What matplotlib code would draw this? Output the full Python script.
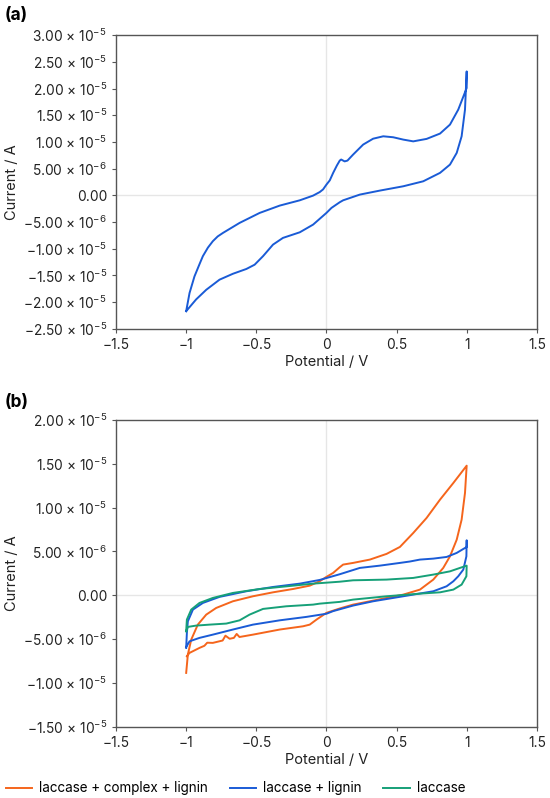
import matplotlib
matplotlib.use("Agg")
import matplotlib.pyplot as plt
import numpy as np
from matplotlib.ticker import FuncFormatter, MultipleLocator

plt.rcParams['font.family'] = ['Inter', 'DejaVu Sans']
plt.rcParams['mathtext.fontset'] = 'custom'
plt.rcParams['mathtext.rm'] = 'Inter'
plt.rcParams['mathtext.it'] = 'Inter'
plt.rcParams['mathtext.default'] = 'regular'

# ---- Panel (a) data: potential (V), current (1e-6 A) ----
a_v = [-1.0, -0.976, -0.941, -0.905, -0.881, -0.845, -0.81, -0.775, -0.738, -0.619, -0.476,
       -0.333, -0.19, -0.095, -0.048, -0.024, 0.0, 0.024, 0.048, 0.075, 0.095, 0.105, 0.13,
       0.15, 0.19, 0.262, 0.333, 0.405, 0.476, 0.548, 0.619, 0.714, 0.81, 0.881, 0.94, 1.0,
       1.0, 0.988, 0.964, 0.929, 0.881, 0.81, 0.69, 0.548, 0.381, 0.238, 0.119, 0.095,
       0.036, 0.0, -0.095, -0.19, -0.31, -0.381, -0.452, -0.512, -0.571, -0.667,
       -0.762, -0.857, -0.929, -1.0]
a_i = [-21.7, -18.3, -15.2, -12.9, -11.4, -9.8, -8.6, -7.7, -7.05, -5.17, -3.3,
       -1.93, -0.94, -0.06, 0.6, 1.1, 2.0, 2.8, 4.2, 5.6, 6.5, 6.7, 6.35,
       6.5, 7.62, 9.5, 10.6, 11.05, 10.87, 10.43, 10.1, 10.56, 11.56, 13.24, 16.05, 20.1,
       23.2, 16.05, 11.05, 7.94, 5.75, 4.2, 2.62, 1.69, 0.88, 0.13, -0.94, -1.3,
       -2.36, -3.3, -5.49, -6.93, -7.98, -9.24, -11.4, -13.0, -13.8, -14.7,
       -15.8, -17.7, -19.5, -21.7]

# ---- Panel (b) data ----
series_names = ["laccase + complex + lignin", "laccase + lignin", "laccase"]

orange_v = [-1.0, -0.988, -0.964, -0.917, -0.857, -0.786, -0.667, -0.524, -0.381, -0.238,
            -0.119, -0.048, 0.0, 0.048, 0.095, 0.119, 0.19, 0.31, 0.429, 0.524, 0.619,
            0.714, 0.81, 0.905, 1.0,
            0.988, 0.964, 0.929, 0.881, 0.833, 0.762, 0.667, 0.548, 0.429, 0.31, 0.19,
            0.095, 0.0, -0.071, -0.119, -0.167, -0.333, -0.524, -0.62, -0.64, -0.66,
            -0.69, -0.72, -0.74, -0.81, -0.85, -0.87, -0.905, -0.976, -0.995]
orange_i = [-8.84, -6.75, -5.05, -3.34, -2.2, -1.44, -0.68, -0.11, 0.34, 0.72,
            1.1, 1.6, 2.1, 2.55, 3.2, 3.5, 3.69, 4.07, 4.72, 5.51, 7.1,
            8.81, 10.9, 12.8, 14.77,
            11.66, 8.62, 6.34, 4.44, 3.12, 1.79, 0.65, 0.08, -0.3, -0.68, -1.06,
            -1.5, -2.0, -2.77, -3.34, -3.53, -3.9, -4.48, -4.75, -4.4, -4.85,
            -4.95, -4.6, -5.15, -5.42, -5.4, -5.75, -5.99, -6.56, -6.94]

blue_v = [-1.0, -0.995, -0.988, -0.952, -0.881, -0.762, -0.571, -0.381, -0.19, -0.048,
          0.095, 0.238, 0.381, 0.524, 0.595, 0.667, 0.762, 0.857, 0.929, 0.976, 1.0, 1.0,
          0.998, 0.976, 0.94, 0.905, 0.857, 0.762, 0.619, 0.476, 0.333, 0.19, 0.048,
          0.0, -0.143, -0.333, -0.524, -0.667, -0.81, -0.905, -0.976, -1.0]
blue_i = [-5.99, -4.28, -2.96, -1.63, -0.87, -0.18, 0.46, 0.95, 1.33, 1.75,
          2.4, 3.12, 3.38, 3.69, 3.85, 4.07, 4.18, 4.37, 4.83, 5.28, 5.5, 6.27,
          4.44, 2.93, 2.17, 1.6, 1.03, 0.46, 0.08, -0.3, -0.68, -1.17, -1.8,
          -2.1, -2.46, -2.85, -3.34, -3.9, -4.48, -4.85, -5.24, -5.9]

green_v = [-1.0, -0.995, -0.964, -0.905, -0.81, -0.667, -0.476, -0.286, -0.095, 0.095,
           0.19, 0.429, 0.619, 0.762, 0.881, 0.952, 1.0,
           0.998, 0.964, 0.905, 0.81, 0.667, 0.429, 0.19, 0.095, -0.048, -0.095,
           -0.286, -0.452, -0.548, -0.619, -0.714, -0.833, -0.929, -0.988, -1.0]
green_i = [-4.1, -2.77, -1.63, -0.87, -0.3, 0.27, 0.72, 1.02, 1.33, 1.55,
           1.71, 1.79, 1.98, 2.36, 2.73, 3.12, 3.38,
           2.17, 1.22, 0.65, 0.34, 0.19, -0.11, -0.49, -0.75, -0.95, -1.06,
           -1.25, -1.55, -2.2, -2.85, -3.22, -3.34, -3.45, -3.6, -4.1]

colors = ["#F5651C", "#1A5BD6", "#16A078"]

x_ticks = [-1.5, -1, -0.5, 0, 0.5, 1, 1.5]
x_labels = ["\u22121.5", "\u22121", "\u22120.5", "0", "0.5", "1", "1.5"]


def sci_fmt(val, pos):
    if abs(val) < 1e-12:
        return "0.00"
    exp = int(np.floor(np.log10(abs(val)) + 1e-9))
    mant = val / 10 ** exp
    m = f"{mant:.2f}".replace("-", "\u2212")
    return m + " \u00d7 10$^{" + f"\u2212{abs(exp)}" + "}$"


fig = plt.figure(figsize=(5.5, 7.98), dpi=100)
axa = fig.add_axes([0.211, 0.588, 0.765, 0.368])
axb = fig.add_axes([0.211, 0.089, 0.765, 0.385])

spine_col = "#555555"
for ax in (axa, axb):
    ax.axhline(0, color="#e6e6e6", lw=1.0, zorder=0)
    ax.axvline(0, color="#e6e6e6", lw=1.0, zorder=0)
    ax.set_xlim(-1.5, 1.5)
    ax.set_xticks(x_ticks)
    ax.set_xticklabels(x_labels)
    ax.yaxis.set_major_locator(MultipleLocator(5e-6))
    ax.yaxis.set_major_formatter(FuncFormatter(sci_fmt))
    ax.tick_params(axis="both", labelsize=9.9, length=3, width=0.8, color=spine_col,
                   labelcolor="#222222", direction="out")
    for s in ax.spines.values():
        s.set_color(spine_col)
        s.set_linewidth(1.0)
    ax.set_xlabel("Potential / V", fontsize=10.5, labelpad=2, color="#222222")
    ax.set_ylabel("Current / A", fontsize=10.5, labelpad=3, color="#222222")

# Panel (a)
axa.plot(a_v, np.array(a_i) * 1e-6, color=colors[1], lw=1.4, solid_joinstyle="round")
axa.set_ylim(-2.5e-5, 3.0e-5)

# Panel (b)
lines = []
for v, i, c, n in [(orange_v, orange_i, colors[0], series_names[0]),
                   (blue_v, blue_i, colors[1], series_names[1]),
                   (green_v, green_i, colors[2], series_names[2])]:
    ln, = axb.plot(v, np.array(i) * 1e-6, color=c, lw=1.4, label=n, solid_joinstyle="round")
    lines.append(ln)
axb.set_ylim(-1.5e-5, 2.0e-5)

fig.text(0.008, 0.98, "(a)", fontsize=12.5, fontweight="bold", va="center", ha="left")
fig.text(0.008, 0.495, "(b)", fontsize=12.5, fontweight="bold", va="center", ha="left")

fig.legend(handles=lines, loc="lower left", bbox_to_anchor=(-0.012, -0.012), ncol=3,
           frameon=False, fontsize=9.7, handlelength=2.0, handletextpad=0.5,
           columnspacing=1.6)

fig.savefig("out.png", dpi=100)
